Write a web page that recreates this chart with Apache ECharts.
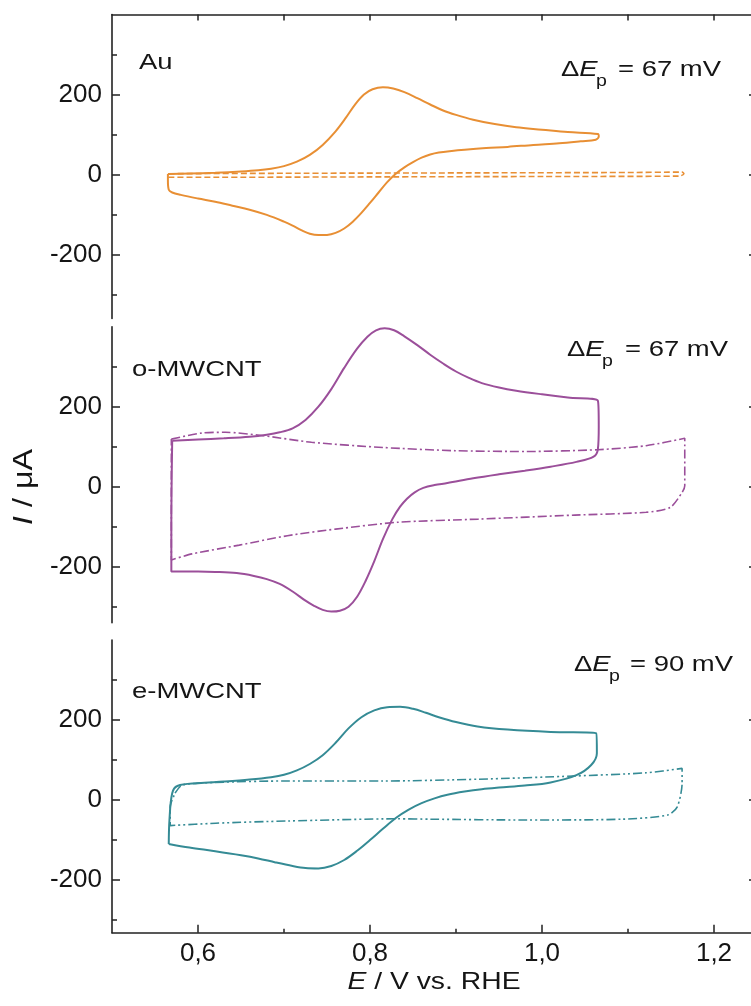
<!DOCTYPE html>
<html><head><meta charset="utf-8">
<script src="https://cdn.jsdelivr.net/npm/echarts@6/dist/echarts.min.js"></script>
<style>html,body{margin:0;padding:0;background:#fff}#c{width:751px;height:1006px}</style>
</head><body><div id="c"></div>
<script>
// ---------- data ----------
const xTicksMajor = [0.6, 0.8, 1.0, 1.2];
const xTicksMinor = [0.7, 0.9, 1.1];
const yTicksMajor = [-200, 0, 200];
const yTicksMinor = [-300, -100, 100, 300];
const panelNames = ['Au', 'o-MWCNT', 'e-MWCNT'];
const peakSeparation = ['67', '67', '90']; // mV

// Au electrode: CV with redox probe (E / V, I / µA)
const auCV = [[0.565,1],[0.59,2.5],[0.62,4.5],[0.65,7.5],[0.67,10.5],[0.685,14.5],[0.70,21],[0.715,32],[0.73,49],[0.745,74],[0.76,108],[0.772,142],[0.783,176],[0.793,200],[0.803,213],[0.815,218],[0.827,215],[0.84,206],[0.855,191],[0.87,175],[0.885,160],[0.90,149],[0.92,137],[0.945,126],[0.97,118],[1.0,112],[1.03,106],[1.065,101],[1.066,95],[1.0625,87],[1.045,83],[1.02,78],[0.99,74],[0.96,69],[0.935,66],[0.91,62],[0.895,59],[0.88,55],[0.87,50],[0.86,42],[0.85,31],[0.84,18],[0.83,2],[0.82,-19],[0.81,-45],[0.80,-71],[0.79,-96],[0.78,-118],[0.77,-135],[0.76,-146],[0.75,-151],[0.74,-151.5],[0.73,-148],[0.72,-139],[0.71,-128],[0.70,-118],[0.68,-101],[0.66,-88],[0.64,-78],[0.62,-68],[0.60,-60],[0.58,-51],[0.57,-45],[0.566,-38],[0.565,-15],[0.565,1]];
// Au electrode: blank
const auBlank = [[0.566,2],[0.70,3],[0.90,4],[1.10,5],[1.163,6],[1.165,2],[1.160,-4],[1.00,-5],[0.80,-6],[0.60,-7],[0.566,-7],[0.566,2]];

// o-MWCNT: CV with redox probe
const oCV = [[0.570,115],[0.60,118],[0.63,121],[0.66,125],[0.68,130],[0.695,136],[0.71,146],[0.725,167],[0.74,200],[0.755,244],[0.77,297],[0.785,345],[0.797,375],[0.807,391],[0.817,396],[0.828,391],[0.84,376],[0.855,354],[0.87,330],[0.885,308],[0.90,288],[0.915,272],[0.93,259],[0.95,248],[0.97,240],[1.0,231],[1.03,223],[1.065,215],[1.066,150],[1.065,94],[1.06,75],[1.04,62],[1.01,50],[0.98,40],[0.95,31],[0.92,21],[0.89,9],[0.875,4],[0.862,-3],[0.852,-14],[0.843,-30],[0.835,-50],[0.826,-81],[0.815,-131],[0.805,-186],[0.795,-235],[0.785,-275],[0.775,-300],[0.765,-310],[0.755,-312],[0.745,-308],[0.735,-298],[0.725,-285],[0.71,-262],[0.695,-243],[0.68,-231],[0.665,-223],[0.645,-216],[0.62,-213],[0.60,-212],[0.569,-212],[0.569,-100],[0.570,115]];
// o-MWCNT: blank
const oBlank = [[0.569,119],[0.604,134],[0.632,136],[0.676,127.5],[0.732,111],[0.815,98],[0.899,90],[0.982,88],[1.065,92.5],[1.121,102.5],[1.166,121],[1.166,2.5],[1.163,-14],[1.149,-52],[1.121,-64],[1.038,-71],[0.926,-81],[0.832,-89],[0.760,-106],[0.704,-122.5],[0.648,-146],[0.593,-168],[0.569,-183],[0.569,119]];

// e-MWCNT: CV with redox probe
const eCV = [[0.566,-110],[0.5668,-50],[0.570,17],[0.576,35],[0.60,42],[0.63,46],[0.66,51],[0.685,57],[0.70,63],[0.715,74],[0.73,90],[0.745,112],[0.76,143],[0.775,179],[0.79,207],[0.805,224],[0.82,232],[0.835,233],[0.85,228],[0.865,218],[0.88,207],[0.90,195],[0.925,184],[0.96,176],[1.01,170],[1.063,167],[1.0638,117],[1.0572,87.5],[1.04,62],[1.01,44],[0.98,36],[0.95,31],[0.93,27],[0.91,21],[0.89,13],[0.875,4],[0.86,-8],[0.845,-24],[0.83,-45],[0.815,-72],[0.80,-100],[0.785,-127],[0.77,-150],[0.755,-165],[0.74,-171],[0.725,-170],[0.71,-165],[0.69,-156],[0.67,-146],[0.65,-138],[0.62,-128],[0.59,-119],[0.566,-110]];
// e-MWCNT: blank
const eBlank = [[0.5733,17],[0.5816,37.5],[0.6206,44],[0.7040,47.5],[0.8152,47.5],[0.9265,52],[1.0377,60],[1.1212,68],[1.1629,79],[1.1629,42],[1.1573,-17],[1.1462,-37.5],[1.0934,-48],[0.9821,-50],[0.8709,-48],[0.8319,-47],[0.7040,-52.5],[0.6206,-58],[0.5677,-64],[0.5677,-17],[0.5733,17]];

// ---------- layout / style ----------
const cvData = [auCV, oCV, eCV];
const blankData = [auBlank, oBlank, eBlank];
const colors = ['#E88F34', '#9B4F9A', '#358B95'];
const blankDash = [[6, 3], [9, 3, 2, 3], [9, 3, 2, 3, 2, 3]];
const grids = [
  {left: 112, width: 645, top: 14.5, height: 304, outerBoundsMode: 'none', containLabel: false},
  {left: 112, width: 645, top: 326.7, height: 296, outerBoundsMode: 'none', containLabel: false},
  {left: 112, width: 645, top: 640, height: 292.8, outerBoundsMode: 'none', containLabel: false}
];
const yRange = [[-360, 400], [-340, 400], [-332, 400]];
const FONT = '"Liberation Sans", Arial, Helvetica, sans-serif';
const AX = '#222';
const TXT = '#151515';

const xAxis = [];
xAxis.push({gridIndex: 0, type: 'value', position: 'top', min: 0.5, max: 1.25,
  axisLine: {show: true, onZero: false, lineStyle: {color: AX, width: 1.6}},
  axisTick: {show: true, inside: true, length: 6, customValues: xTicksMajor.concat(xTicksMinor), lineStyle: {color: AX, width: 1.5}},
  axisLabel: {show: false}, splitLine: {show: false}});
xAxis.push({gridIndex: 1, type: 'value', min: 0.5, max: 1.25, show: false, axisLine: {onZero: false}});
xAxis.push({gridIndex: 2, type: 'value', position: 'bottom', min: 0.5, max: 1.25,
  axisLine: {show: true, onZero: false, lineStyle: {color: AX, width: 1.6}},
  axisTick: {show: true, inside: true, length: 8, customValues: xTicksMajor, lineStyle: {color: AX, width: 1.5}},
  axisLabel: {show: true, customValues: xTicksMajor, margin: 8, fontSize: 26, fontFamily: FONT, color: TXT,
    formatter: v => v.toFixed(1).replace('.', ',')},
  splitLine: {show: false}});
xAxis.push({gridIndex: 2, type: 'value', position: 'bottom', min: 0.5, max: 1.25,
  axisLine: {show: false, onZero: false},
  axisTick: {show: true, inside: true, length: 4, customValues: xTicksMinor, lineStyle: {color: AX, width: 1.5}},
  axisLabel: {show: false}, splitLine: {show: false}});

const yAxis = [];
for (let i = 0; i < 3; i++) {
  yAxis.push({gridIndex: i, type: 'value', position: 'left', min: yRange[i][0], max: yRange[i][1],
    axisLine: {show: true, onZero: false, lineStyle: {color: AX, width: 1.6}},
    axisTick: {show: true, inside: true, length: 8, customValues: yTicksMajor, lineStyle: {color: AX, width: 1.5}},
    axisLabel: {show: true, customValues: yTicksMajor, margin: 10, fontSize: 26, fontFamily: FONT, color: TXT},
    splitLine: {show: false}});
  yAxis.push({gridIndex: i, type: 'value', position: 'left', min: yRange[i][0], max: yRange[i][1],
    axisLine: {show: false, onZero: false},
    axisTick: {show: true, inside: true, length: 5, customValues: yTicksMinor, lineStyle: {color: AX, width: 1.5}},
    axisLabel: {show: false}, splitLine: {show: false}});
  yAxis.push({gridIndex: i, type: 'value', position: 'right', min: yRange[i][0], max: yRange[i][1],
    axisLine: {show: true, onZero: false, lineStyle: {color: AX, width: 1.6}},
    axisTick: {show: true, inside: true, length: 8, customValues: yTicksMajor, lineStyle: {color: AX, width: 1.5}},
    axisLabel: {show: false}, splitLine: {show: false}});
}

const xIdx = [0, 1, 2];
const series = [];
for (let i = 0; i < 3; i++) {
  series.push({type: 'line', name: panelNames[i] + ' blank', xAxisIndex: xIdx[i], yAxisIndex: i * 3,
    data: blankData[i], showSymbol: false, symbol: 'none', smooth: 0.25,
    lineStyle: {color: colors[i], width: 1.6, type: blankDash[i]}, z: 2});
  series.push({type: 'line', name: panelNames[i], xAxisIndex: xIdx[i], yAxisIndex: i * 3,
    data: cvData[i], showSymbol: false, symbol: 'none', smooth: 0.35,
    lineStyle: {color: colors[i], width: 2}, z: 3});
}

// ---------- text annotations ----------
const SX = 1.22;
function txt(x, y, text, fs, align, extra) {
  return {type: 'text', x: x, y: y, scaleX: SX, z: 10,
    style: Object.assign({text: text, x: 0, y: 0, fontSize: fs, fontFamily: FONT, fill: TXT,
      align: align, verticalAlign: 'middle'}, extra || {})};
}
const labelPos = [[139, 63], [132, 370], [132, 692]];
const dEPos = [[561, 721, 70], [567, 728, 350], [574, 733, 665]];
const graphic = [];
for (let i = 0; i < 3; i++) {
  graphic.push(txt(labelPos[i][0], labelPos[i][1], panelNames[i], 22.5, 'left'));
  const [L, R, cy] = dEPos[i];
  graphic.push(txt(L, cy, '{n|Δ}{i|E}', 22.5, 'left', {rich: {
    n: {fontSize: 22.5, fontFamily: FONT, fill: TXT},
    i: {fontSize: 22.5, fontFamily: FONT, fontStyle: 'italic', fill: TXT}}}));
  graphic.push(txt(L + 35, cy + 12, 'p', 16, 'left'));
  graphic.push(txt(R, cy, '= ' + peakSeparation[i] + ' mV', 22.5, 'right'));
}
// x-axis title
graphic.push({type: 'text', x: 434, y: 982, scaleX: 1.18, z: 10, style: {text: '{i|E} / V vs. RHE', x: 0, y: 0,
  fontSize: 24, fontFamily: FONT, fill: TXT, align: 'center', verticalAlign: 'middle',
  rich: {i: {fontSize: 24, fontFamily: FONT, fontStyle: 'italic', fill: TXT}}}});
// y-axis title
graphic.push({type: 'text', x: 24, y: 487, rotation: Math.PI / 2, scaleX: 1.15, z: 10, style: {text: '{i|I} / μA', x: 0, y: 0,
  fontSize: 28, fontFamily: FONT, fill: TXT, align: 'center', verticalAlign: 'middle',
  rich: {i: {fontSize: 28, fontFamily: FONT, fontStyle: 'italic', fill: TXT}}}});

const chart = echarts.init(document.getElementById('c'), null, {renderer: 'canvas'});
chart.setOption({
  animation: false,
  backgroundColor: '#ffffff',
  grid: grids,
  xAxis: xAxis,
  yAxis: yAxis,
  series: series,
  graphic: graphic
});
</script></body></html>
